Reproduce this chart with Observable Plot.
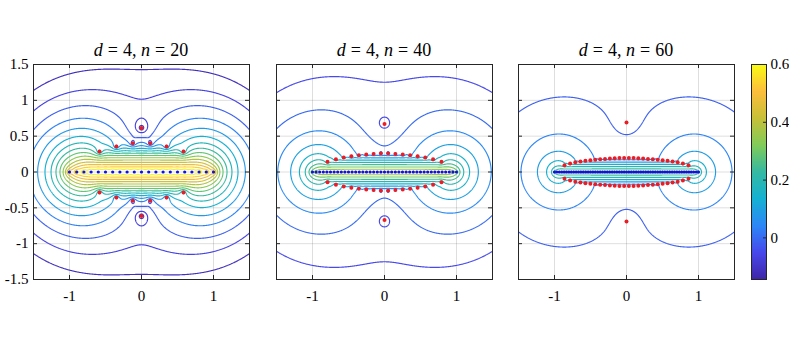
<!DOCTYPE html>
<html><head><meta charset="utf-8">
<script src="https://cdn.jsdelivr.net/npm/d3@7"></script>
<script src="https://cdn.jsdelivr.net/npm/@observablehq/plot@0.6"></script>
<style>
body{margin:0;background:#fff;}
#chart{position:relative;width:789px;height:344px;overflow:hidden;font-family:"Liberation Serif","Times New Roman",serif;}
.title{position:absolute;top:41px;font-size:18px;line-height:18px;text-align:center;white-space:nowrap;color:#000;width:216px}
.title .eq{margin:0 0.28em}
.panel{position:absolute}
</style></head><body><div id="chart"></div>
<script>
// ---- data ----
const dValue = 4;                         // blending degree d
const nValues = [20, 40, 60];             // number of intervals n per panel
// contour levels of each panel, read from where the reference lines lie
const levelsN20 = [-0.115,-0.065,-0.015,0.035,0.085,0.135,0.185,0.235,0.285,0.335,0.385,0.435,0.485,0.535,0.585];
const levelsN40 = [-0.05,0,0.05,0.1,0.15,0.2,0.25,0.3,0.35,0.4,0.45,0.5,0.55,0.6];
const levelsN60 = [-0.015,0.04,0.09,0.14,0.19,0.24,0.29,0.34,0.39,0.44,0.49,0.54,0.59];
const panelLevels = [levelsN20, levelsN40, levelsN60];
const xTicks = [-1, 0, 1];
const yTicks = [-1.5, -1, -0.5, 0, 0.5, 1, 1.5];
const colorTicks = [0, 0.2, 0.4, 0.6];
const colorDomain = [-0.144, 0.6];
const axisDomain = [-1.5, 1.5];
const parulaStops = ["#3e26a8","#4748eb","#2d87f7","#15b1d2","#35b9a2","#81cc59","#c7c038","#fcbe3c","#f9fb15"];

// ---- layout ----
const frameLefts = [33, 276, 518];
const frameTop = 64, frameW = 216, frameH = 215;
const mL = 36, mR = 6, mT = 14, mB = 34;
const frameColor = "#262626";
const parula = d3.piecewise(d3.interpolateRgb, parulaStops);
const colorScale = {type: "linear", domain: colorDomain, interpolate: parula, clamp: true};
const fontStyle = {fontFamily: "'Liberation Serif', 'Times New Roman', serif", fontSize: "15px", color: "#000", background: "transparent", overflow: "visible"};

// Floater–Hormann: equispaced nodes, lambda_i(z) = (-1)^i / prod_{j=i}^{i+d}(z - x_j)
function makeNodes(n) { return d3.range(n + 1).map(j => -1 + 2 * j / n); }

function sumLambda(nodes, d, x, y, withDeriv) {
  const n = nodes.length - 1, m = n - d;
  const rr = new Float64Array(n + 1), ri = new Float64Array(n + 1);
  let Lr = 0, Li = 0;
  for (let j = 0; j <= n; j++) {
    const a = x - nodes[j], b = y, q = a * a + b * b;
    rr[j] = a / q; ri[j] = -b / q; Lr += rr[j]; Li += ri[j];
  }
  let Sr = 0, Si = 0, Dr = 0, Di = 0;
  for (let i = 0; i <= m; i++) {
    let pr = 1, pi = 0, Rr = 0, Ri = 0;
    for (let j = i; j <= i + d; j++) {
      const t = pr * rr[j] - pi * ri[j];
      pi = pr * ri[j] + pi * rr[j]; pr = t;
      Rr += rr[j]; Ri += ri[j];
    }
    const s = (i % 2 === 0) ? 1 : -1;
    Sr += s * pr; Si += s * pi;
    if (withDeriv) { Dr -= s * (pr * Rr - pi * Ri); Di -= s * (pr * Ri + pi * Rr); }
  }
  return {Sr, Si, Dr, Di, Lr, Li};
}

// poles = zeros of l(z)*sum lambda_i(z), found with the Aberth iteration
function computePoles(nodes, d) {
  const n = nodes.length - 1, m = n - d;
  const zr = [], zi = [];
  for (let k = 0; k < m; k++) {
    const th = 2 * Math.PI * (k + 0.5) / m + 0.21;
    zr.push(1.05 * Math.cos(th) + 0.003); zi.push(0.55 * Math.sin(th) + 0.011);
  }
  for (let it = 0; it < 400; it++) {
    let maxStep = 0;
    for (let k = 0; k < m; k++) {
      const o = sumLambda(nodes, d, zr[k], zi[k], true);
      const sm = o.Sr * o.Sr + o.Si * o.Si;
      const gr = o.Lr + (o.Dr * o.Sr + o.Di * o.Si) / sm;
      const gi = o.Li + (o.Di * o.Sr - o.Dr * o.Si) / sm;
      const gm = gr * gr + gi * gi;
      const Nr = gr / gm, Ni = -gi / gm;
      let sr = 0, si = 0;
      for (let j = 0; j < m; j++) if (j !== k) {
        const dr = zr[k] - zr[j], di = zi[k] - zi[j], dm = dr * dr + di * di;
        sr += dr / dm; si -= di / dm;
      }
      const denr = 1 - (Nr * sr - Ni * si), deni = -(Nr * si + Ni * sr);
      const dm = denr * denr + deni * deni;
      const wr = (Nr * denr + Ni * deni) / dm, wi = (Ni * denr - Nr * deni) / dm;
      if (isFinite(wr) && isFinite(wi)) { zr[k] -= wr; zi[k] -= wi; maxStep = Math.max(maxStep, Math.hypot(wr, wi)); }
    }
    if (maxStep < 1e-13) break;
  }
  return zr.map((x, k) => ({x, y: zi[k]}));
}

// discrete potential (1/n) log|sum lambda_i(z)|, keeping only the poles inside the window
function field(nodes, d, far, x, y) {
  const n = nodes.length - 1;
  const {Sr, Si} = sumLambda(nodes, d, x, y, false);
  let v = Math.log(Math.hypot(Sr, Si)) / n;
  for (const p of far) {
    const pm = p.x * p.x + p.y * p.y;
    const ar = 1 - (x * p.x + y * p.y) / pm, ai = -(y * p.x - x * p.y) / pm;
    v -= Math.log(Math.hypot(ar, ai)) / n;
  }
  if (!isFinite(v)) v = isNaN(v) ? 2 : (v > 0 ? 2 : -2);
  return Math.max(-2, Math.min(2, v));
}

const chart = document.getElementById("chart");

nValues.forEach((n, p) => {
  const nodes = makeNodes(n);
  const nodePts = nodes.map(x => ({x, y: 0}));
  const allPoles = computePoles(nodes, dValue);
  const inside = q => Math.abs(q.x) <= 1.5 && Math.abs(q.y) <= 1.5;
  const poles = allPoles.filter(inside);
  const far = allPoles.filter(q => !inside(q));
  const marks = [
    Plot.ruleX(xTicks, {x: d => d, stroke: "#000", strokeOpacity: 0.13}),
    Plot.ruleY(yTicks, {y: d => d, stroke: "#000", strokeOpacity: 0.13}),
    Plot.contour({
      value: (x, y) => field(nodes, dValue, far, x, y),
      x1: -1.62, x2: 1.62, y1: -1.62, y2: 1.62,
      thresholds: panelLevels[p], pixelSize: 0.5,
      stroke: "value", fill: "none", strokeWidth: 1.15, clip: true
    }),
    Plot.dot(poles, {x: "x", y: "y", r: 2, fill: "#ec1c24", stroke: "none"}),
    Plot.dot(nodePts, {x: "x", y: "y", r: 1.6, fill: "#1010e0", stroke: "none"}),
    Plot.tickX(xTicks, {x: d => d, insetTop: frameH - 4, stroke: frameColor}),
    Plot.tickX(xTicks, {x: d => d, insetBottom: frameH - 4, stroke: frameColor}),
    Plot.tickY(yTicks, {y: d => d, insetLeft: frameW - 4, stroke: frameColor}),
    Plot.tickY(yTicks, {y: d => d, insetRight: frameW - 4, stroke: frameColor}),
    Plot.axisX(xTicks, {tickSize: 0, tickPadding: 11, tickFormat: d => String(d)}),
    Plot.frame({stroke: frameColor, strokeWidth: 1})
  ];
  if (p === 0) marks.push(Plot.axisY(yTicks, {tickSize: 0, tickPadding: 5, tickFormat: d => String(d)}));
  const svg = Plot.plot({
    width: frameW + mL + mR, height: frameH + mT + mB,
    marginLeft: mL, marginRight: mR, marginTop: mT, marginBottom: mB,
    style: fontStyle,
    x: {domain: axisDomain, label: null, axis: null},
    y: {domain: axisDomain, label: null, axis: null},
    color: colorScale,
    marks
  });
  svg.classList.add("panel");
  svg.style.left = (frameLefts[p] - mL) + "px";
  svg.style.top = (frameTop - mT) + "px";
  chart.appendChild(svg);

  const title = document.createElement("div");
  title.className = "title";
  title.style.left = frameLefts[p] + "px";
  title.innerHTML = `<i>d</i><span class="eq">=</span>${dValue}, <i>n</i><span class="eq">=</span>${n}`;
  chart.appendChild(title);
});

// colorbar
const cbLeft = 751, cbW = 15;
const cb = Plot.plot({
  width: cbW + 38, height: frameH + mT + 10,
  marginLeft: 0, marginRight: 38, marginTop: mT, marginBottom: 10,
  style: fontStyle,
  x: {domain: [0, 1], axis: null},
  y: {domain: colorDomain, axis: null},
  color: colorScale,
  marks: [
    Plot.raster({x1: 0, x2: 1, y1: colorDomain[0], y2: colorDomain[1], fill: (x, y) => y, pixelSize: 1}),
    Plot.tickY(colorTicks, {y: d => d, insetLeft: cbW - 3, stroke: frameColor}),
    Plot.axisY(colorTicks, {anchor: "right", tickSize: 0, tickPadding: 4, tickFormat: d => String(d)}),
    Plot.frame({stroke: frameColor, strokeWidth: 1})
  ]
});
cb.classList.add("panel");
cb.style.left = cbLeft + "px";
cb.style.top = (frameTop - mT) + "px";
chart.appendChild(cb);
</script></body></html>
